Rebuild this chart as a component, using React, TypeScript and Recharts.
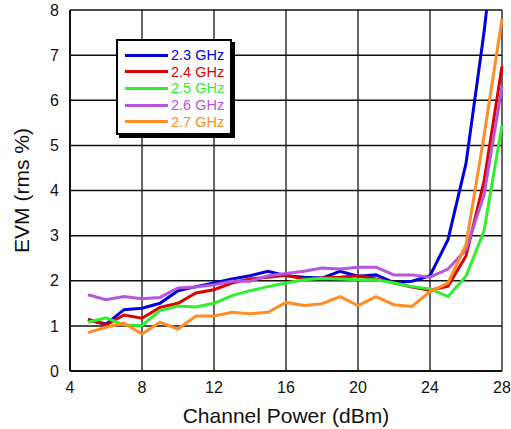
import React from 'react';
import { LineChart, Line, XAxis, YAxis, CartesianGrid, Legend } from 'recharts';

const power = [5, 6, 7, 8, 9, 10, 11, 12, 13, 14, 15, 16, 17, 18, 19, 20, 21, 22, 23, 24, 25, 26, 27, 28];

const ghz23 = [1.13, 1.04, 1.36, 1.39, 1.5, 1.78, 1.87, 1.95, 2.04, 2.11, 2.21, 2.11, 2.08, 2.06, 2.21, 2.1, 2.13, 1.96, 1.99, 2.11, 2.91, 4.6, 7.5, 11];
const ghz24 = [1.15, 1.02, 1.24, 1.17, 1.41, 1.5, 1.73, 1.8, 1.95, 2.04, 2.08, 2.12, 2.04, 2.06, 2.08, 2.11, 2.04, 1.95, 1.86, 1.79, 1.88, 2.55, 4.2, 6.75];
const ghz25 = [1.08, 1.18, 1.02, 1.01, 1.34, 1.44, 1.42, 1.5, 1.67, 1.78, 1.87, 1.95, 2.02, 2.05, 2.04, 2.02, 2.02, 1.95, 1.87, 1.82, 1.65, 2.1, 3.1, 5.45];
const ghz26 = [1.69, 1.58, 1.65, 1.6, 1.63, 1.84, 1.86, 1.91, 1.99, 1.99, 2.11, 2.16, 2.21, 2.28, 2.26, 2.3, 2.3, 2.13, 2.13, 2.08, 2.26, 2.69, 3.9, 6.3];
const ghz27 = [0.85, 0.97, 1.06, 0.82, 1.08, 0.93, 1.22, 1.22, 1.3, 1.27, 1.3, 1.52, 1.45, 1.49, 1.65, 1.45, 1.65, 1.47, 1.43, 1.76, 1.95, 2.8, 5.2, 7.8];

const xTicks = [4, 8, 12, 16, 20, 24, 28];
const yTicks = [0, 1, 2, 3, 4, 5, 6, 7, 8];

const series = [
  { key: 'g23', name: '2.3 GHz', color: '#0000dd', values: ghz23 },
  { key: 'g24', name: '2.4 GHz', color: '#dd0000', values: ghz24 },
  { key: 'g25', name: '2.5 GHz', color: '#2ef02e', values: ghz25 },
  { key: 'g26', name: '2.6 GHz', color: '#b656dc', values: ghz26 },
  { key: 'g27', name: '2.7 GHz', color: '#ff8c24', values: ghz27 },
];

const data = power.map((p, i) => {
  const row: Record<string, number> = { power: p };
  series.forEach((s) => {
    row[s.key] = s.values[i];
  });
  return row;
});

const font = 'Arial, "Liberation Sans", Helvetica, sans-serif';

const LegendBox = () => (
  <div
    style={{
      width: 116,
      height: 96,
      border: '2px solid #000',
      boxShadow: '3px 3px 0 #000',
      background: '#fff',
      padding: '6px 0 0 7px',
      boxSizing: 'border-box',
      fontFamily: font,
      fontSize: 14.5,
    }}
  >
    {series.map((s) => (
      <div key={s.key} style={{ display: 'flex', alignItems: 'center', height: 16.6 }}>
        <div style={{ width: 43, height: 3, background: s.color, marginRight: 3 }} />
        <span style={{ color: s.color, lineHeight: '16px' }}>{s.name}</span>
      </div>
    ))}
  </div>
);

export default function App() {
  return (
    <div style={{ position: 'absolute', left: 0, top: 0, background: '#fff' }}>
      <LineChart width={511} height={429} data={data} margin={{ top: 10, right: 9, bottom: 0, left: 0 }}>
        <CartesianGrid horizontal={false} stroke="#666" strokeWidth={2} />
        <CartesianGrid vertical={false} stroke="#111" strokeWidth={1.5} />
        <XAxis
          dataKey="power"
          type="number"
          domain={[4, 28]}
          ticks={xTicks}
          height={58}
          tickLine={false}
          tickSize={6}
          tickMargin={5}
          axisLine={{ stroke: '#111', strokeWidth: 2 }}
          tick={{ fill: '#111', fontSize: 16, fontFamily: font }}
          label={{
            value: 'Channel Power (dBm)',
            position: 'insideBottom',
            offset: 6,
            style: { fill: '#111', fontSize: 21, fontFamily: font },
          }}
        />
        <YAxis
          type="number"
          domain={[0, 8]}
          ticks={yTicks}
          allowDataOverflow
          width={70}
          tickLine={false}
          tickSize={6}
          tickMargin={5}
          axisLine={{ stroke: '#111', strokeWidth: 2 }}
          tick={{ fill: '#111', fontSize: 16, fontFamily: font }}
          label={{
            value: 'EVM (rms %)',
            angle: -90,
            position: 'insideLeft',
            offset: 22,
            style: { fill: '#111', fontSize: 21, fontFamily: font, textAnchor: 'middle' },
          }}
        />
        <Legend
          layout="vertical"
          align="center"
          verticalAlign="middle"
          content={() => <LegendBox />}
          wrapperStyle={{ position: 'absolute', left: 116, top: 39, width: 'auto' }}
        />
        {series.map((s) => (
          <Line
            key={s.key}
            type="linear"
            dataKey={s.key}
            name={s.name}
            stroke={s.color}
            strokeWidth={3}
            dot={false}
            activeDot={false}
            isAnimationActive={false}
          />
        ))}
      </LineChart>
    </div>
  );
}
